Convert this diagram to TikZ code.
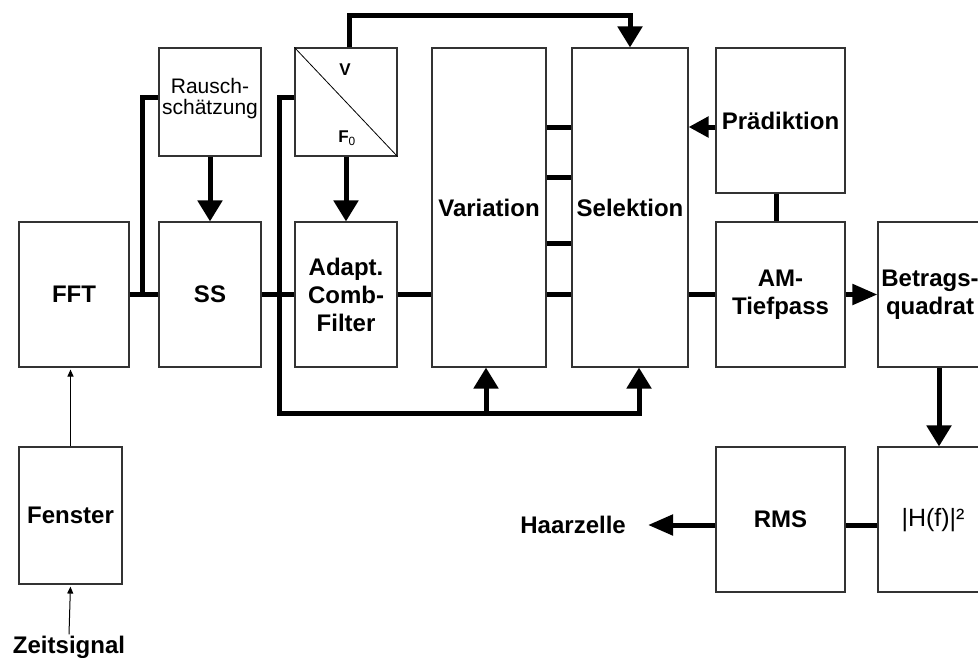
\documentclass[tikz,border=0pt]{standalone}
\usepackage{fontspec}
\setmainfont{Liberation Sans}
\usetikzlibrary{arrows.meta}
\newcommand\lbl{\bfseries\fontsize{24}{28}\selectfont}
\begin{document}
\begin{tikzpicture}[x=1pt,y=-1pt,
  box/.style={draw=black!80, line width=1.1pt, inner sep=0pt, align=center, font=\lbl},
  conn/.style={line width=5pt},
  arr/.style={conn, -{Triangle[width=24pt,length=21pt]}},
  harr/.style={conn, -{Triangle[width=20pt,length=25pt]}},
  parr/.style={conn, -{Triangle[width=20pt,length=20pt]}},
  thinarr/.style={line width=1pt, -{Triangle[width=6pt,length=7pt]}, shorten >=2pt},
  lab/.style={font=\lbl, align=center, inner sep=0pt}]
\fill[white] (0,0) rectangle (978,657);
\useasboundingbox (0,0) rectangle (978,657);
\clip (0,0) rectangle (978,657);

% boxes
\node[box, minimum width=110pt, minimum height=145pt] (fft) at (74,294.5) {FFT};
\node[box, minimum width=102pt, minimum height=108pt] (rausch) at (210,102) {};
\node[lab, font=\fontsize{21}{21}\selectfont] (rauschlab) at (210,99) {Rausch-\\schätzung};
\node[box, minimum width=102pt, minimum height=145pt] (ss) at (210,294.5) {SS};
\node[box, minimum width=102pt, minimum height=108pt] (vf) at (346,102) {};
\node[box, minimum width=102pt, minimum height=145pt] (adapt) at (346,294.5) {Adapt.\\Comb-\\Filter};
\node[box, minimum width=114pt, minimum height=319pt] (var) at (489,207.5) {Variation};
\node[box, minimum width=116pt, minimum height=319pt] (sel) at (630,207.5) {Selektion};
\node[box, minimum width=129pt, minimum height=145pt] (pred) at (780.5,120.5) {Prädiktion};
\node[box, minimum width=129pt, minimum height=145pt] (am) at (780.5,294.5) {AM-\\Tiefpass};
\node[box, minimum width=122pt, minimum height=145pt] (betr) at (939,294.5) {};
\node[lab] (betrlab) at (930,294.5) {Betrags-\\quadrat};
\node[box, minimum width=122pt, minimum height=145pt] (hf) at (939,519.5) {};
\node[lab, font=\fontsize{25}{28}\selectfont] (hflab) at (933,520) {|H(f)|²};
\node[box, minimum width=129pt, minimum height=145pt] (rms) at (780.5,519.5) {RMS};
\node[box, minimum width=103pt, minimum height=137pt] (fen) at (70.5,515.5) {Fenster};
\node[font=\lbl, anchor=base, inner sep=1pt] (zeit) at (69,653) {Zeitsignal};
\node[font=\lbl, anchor=east, inner xsep=22pt, inner ysep=0pt] (haar) at (648,525) {Haarzelle};

% V / F0 box content
\draw[line width=0.8pt] (vf.north west) -- (vf.south east);
\node[font=\bfseries\fontsize{17}{17}\selectfont] (vlab) at (345,70) {V};
\node[font=\bfseries\fontsize{17}{17}\selectfont] (flab) at (347,138) {F{\mdseries\textsubscript{0}}};

% helper coordinates
\coordinate (j1) at (142,294.5);
\coordinate (bl) at (279,413);
\coordinate (vb) at (486,413);
\coordinate (tp) at (349,15);
\coordinate (r1) at (0,127);
\coordinate (r2) at (0,177);
\coordinate (r3) at (0,243);
\coordinate (r4) at (0,294.5);

% connectors
\draw[conn] (fft.east) -- (ss.west);
\draw[conn] (j1) |- ([yshift=5pt]rausch.west);
\draw[conn] (ss.east) -- (adapt.west);
\draw[arr] ([yshift=5pt]vf.west) -| (bl) -| ([xshift=9pt]sel.south);
\draw[arr] (vb) -- (vb |- var.south);
\draw[conn] (adapt.east) -- (adapt.east -| var.west);
\draw[conn] (var.east |- r1) -- (sel.west |- r1);
\draw[conn] (var.east |- r2) -- (sel.west |- r2);
\draw[conn] (var.east |- r3) -- (sel.west |- r3);
\draw[conn] (var.east |- r4) -- (sel.west |- r4);
\draw[arr] ([xshift=3pt]vf.north) -- (tp) -| (sel.north);
\draw[arr] (rausch.south) -- (ss.north);
\draw[arr] (vf.south) -- (adapt.north);
\draw[parr] (pred.west |- r1) -- (sel.east |- r1);
\draw[conn] ([xshift=-4.5pt]pred.south) -- ([xshift=-4.5pt]am.north);
\draw[conn] (sel.east |- am.west) -- (am.west);
\draw[harr] (am.east) -- (betr.west);
\draw[arr] (betr.south) -- (hf.north);
\draw[conn] ([yshift=-5.5pt]hf.west) -- ([yshift=-5.5pt]rms.east);
\draw[harr] ([yshift=-5.5pt]rms.west) -- (haar.east);
\draw[thinarr] (fen.north) -- (fen.north |- fft.south);
\draw[thinarr] (zeit.north) -- (fen.south);
\end{tikzpicture}
\end{document}
